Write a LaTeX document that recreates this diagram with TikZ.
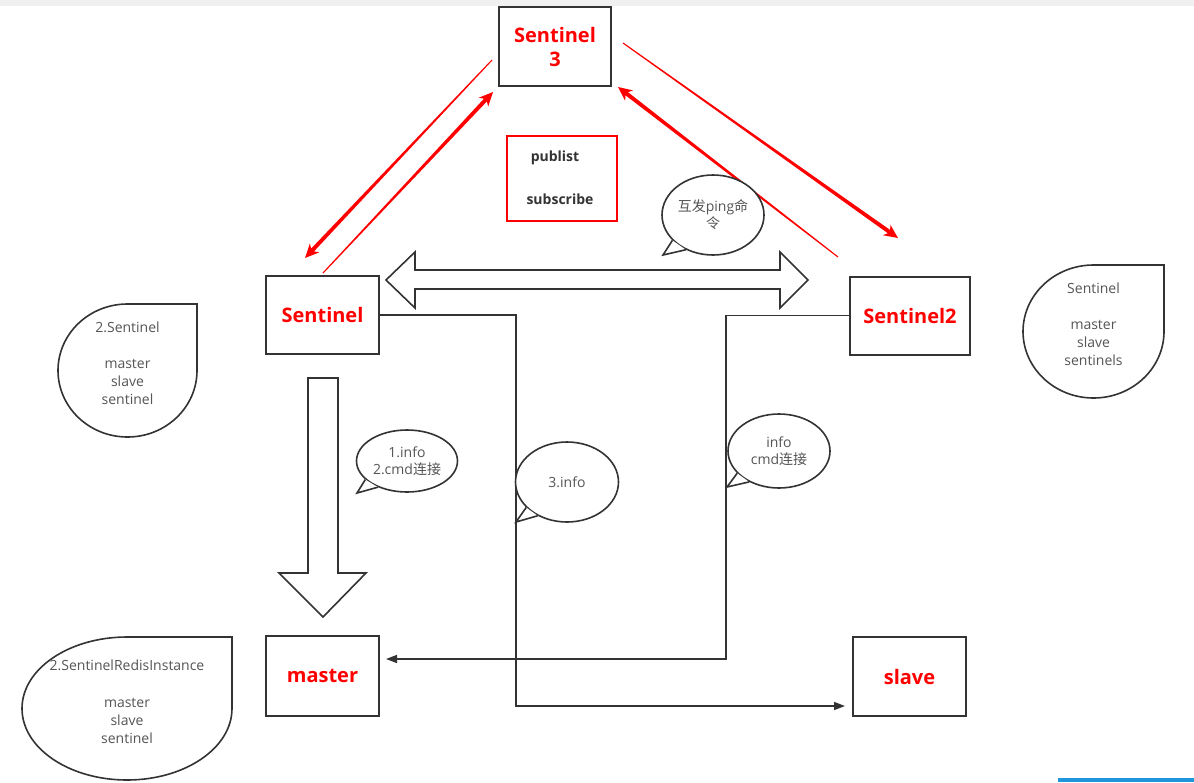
\documentclass[tikz,border=0pt]{standalone}
\usepackage{fontspec}
\setmainfont{Open Sans}
\newfontfamily\cjk{Noto Sans CJK SC}
\usetikzlibrary{arrows.meta,shapes.geometric,calc}
\definecolor{dk}{HTML}{333333}
\definecolor{tx}{HTML}{555555}
\definecolor{rd}{HTML}{FF0000}
\definecolor{bl}{HTML}{1E96DC}
\definecolor{strip}{HTML}{F0F0F0}
% tapered red arrow: thin at tail (#1), thick with head at (#2)
\newcommand\taperarrow[2]{%
  \coordinate (tb) at ($(#2)!14pt!(#1)$);
  \coordinate (tn) at ($(#2)!11pt!(#1)$);
  \fill[rd] ($(#1)!0.55pt!90:(#2)$) -- ($(tn)!2pt!90:(#2)$) -- ($(tb)!6.5pt!90:(#2)$) -- (#2)
    -- ($(tb)!6.5pt!-90:(#2)$) -- ($(tn)!2pt!-90:(#2)$) -- ($(#1)!0.55pt!-90:(#2)$) -- cycle;
}
\begin{document}
\begin{tikzpicture}[x=1pt,y=-1pt,
  box/.style={draw=dk,line width=2pt,fill=white,inner sep=0pt,font=\fontsize{20}{24}\selectfont\bfseries,text=rd,align=center},
  bubble/.style={ellipse,draw=dk,line width=1.6pt,fill=white,inner sep=0pt,font=\fontsize{14}{17}\selectfont,text=tx,align=center},
  tail/.style={draw=dk,line width=1.6pt,line join=miter},
  tear/.style={draw=dk,line width=1.6pt,fill=white},
  teartext/.style={font=\fontsize{14}{18}\selectfont,text=tx,align=center,inner sep=0pt},
  pubtext/.style={font=\fontsize{14}{17}\selectfont\bfseries,text=dk,inner sep=0pt},
  conn/.style={draw=dk,line width=1.5pt,-{Triangle[length=11pt,width=8pt]}},
  thinred/.style={draw=rd,line width=0.9pt},
  blockarrow/.style={draw=dk,line width=1.6pt,fill=white,line join=miter}]

\useasboundingbox (0,0) rectangle (1194,782);
\fill[strip] (0,0) rectangle (1194,6);
\fill[bl] (1058,778) rectangle (1194,782);

% main boxes
\node[box,minimum width=112,minimum height=79] (s3) at (555,46.5) {Sentinel\\3};
\node[box,minimum width=113,minimum height=78] (s1) at (322.5,315) {Sentinel};
\node[box,minimum width=120,minimum height=78] (s2) at (910,315.5) {Sentinel2};
\node[box,minimum width=113,minimum height=80] (master) at (322.5,676) {master};
\node[box,minimum width=113,minimum height=79] (slave) at (909.5,676.5) {slave};

% publist box
\node[draw=rd,line width=1.5pt,minimum width=110,minimum height=85,inner sep=0pt] (pub) at (562,178.5) {};
\node[pubtext] (pubt) at (555,158) {publist};
\node[pubtext] (subt) at (560,199) {subscribe};

% red arrows between sentinels
\coordinate (l1t) at (492,60);  \coordinate (l1h) at (305,258);
\coordinate (l2t) at (323,273); \coordinate (l2h) at (493,92);
\coordinate (r1t) at (838,257); \coordinate (r1h) at (618,87);
\coordinate (r2t) at (623,43);  \coordinate (r2h) at (898,238);
\taperarrow{l1t}{l1h}
\taperarrow{l2t}{l2h}
\taperarrow{r1t}{r1h}
\taperarrow{r2t}{r2h}

% horizontal double block arrow
\draw[blockarrow] (386,280) -- (415,252) -- (415,270) -- (780,270) -- (780,252) -- (808,280)
  -- (780,308) -- (780,289) -- (415,289) -- (415,308) -- cycle;
% down block arrow
\draw[blockarrow] (308,378) -- (338,378) -- (338,573) -- (366,573) -- (323,617) -- (279,573) -- (308,573) -- cycle;

% connectors
\draw[conn,shorten >=7pt] (s1.east) -| (516,706) -- (slave.west |- 0,706);
\draw[conn,shorten >=6pt] (s2.west) -| (726,659) -- (master.east |- 0,659);

% speech bubbles
\node[bubble,minimum width=102,minimum height=80] (b0) at (713,215) {{\cjk 互发}ping{\cjk 命}\\{\cjk 令}};
\coordinate (b0t) at (663,255);
\fill[white] (b0.212) -- (b0t) -- (b0.232) -- cycle;
\draw[tail] (b0.212) -- (b0t) -- (b0.232);

\node[bubble,minimum width=101,minimum height=62] (b1) at (407,461) {1.info\\2.cmd{\cjk 连接}};
\coordinate (b1t) at (357,493);
\fill[white] (b1.204) -- (b1t) -- (b1.222) -- cycle;
\draw[tail] (b1.204) -- (b1t) -- (b1.222);

\node[bubble,minimum width=103,minimum height=80] (b2) at (567,482) {3.info};
\coordinate (b2t) at (516,522);
\fill[white] (b2.212) -- (b2t) -- (b2.229) -- cycle;
\draw[tail] (b2.212) -- (b2t) -- (b2.229);

\node[bubble,minimum width=102,minimum height=74] (b3) at (779,451) {info\\cmd{\cjk 连接}};
\coordinate (b3t) at (727,487);
\fill[white] (b3.208) -- (b3t) -- (b3.226) -- cycle;
\draw[tail] (b3.208) -- (b3t) -- (b3.226);

% teardrop notes
\draw[tear] (197,304) -- (197,370.5) .. controls (197,407.2) and (165.9,437) .. (127.5,437)
  .. controls (89.1,437) and (58,407.2) .. (58,370.5) .. controls (58,333.8) and (89.1,304) .. (127.5,304) -- cycle;
\node[teartext] (n1) at (127.5,363) {2.Sentinel\\[18pt]master\\slave\\sentinel};

\draw[tear] (1164,265) -- (1164,331.5) .. controls (1164,368.2) and (1132.4,398) .. (1093.5,398)
  .. controls (1054.6,398) and (1023,368.2) .. (1023,331.5) .. controls (1023,294.8) and (1054.6,265) .. (1093.5,265) -- cycle;
\node[teartext] (n2) at (1093.5,324) {Sentinel\\[18pt]master\\slave\\sentinels};

\draw[tear] (232,637) -- (232,708.5) .. controls (232,748) and (185,780) .. (127,780)
  .. controls (69,780) and (22,748) .. (22,708.5) .. controls (22,669) and (69,637) .. (127,637) -- cycle;
\node[teartext] (n3) at (127,701.5) {2.SentinelRedisInstance\\[19pt]master\\slave\\sentinel};
\end{tikzpicture}
\end{document}
